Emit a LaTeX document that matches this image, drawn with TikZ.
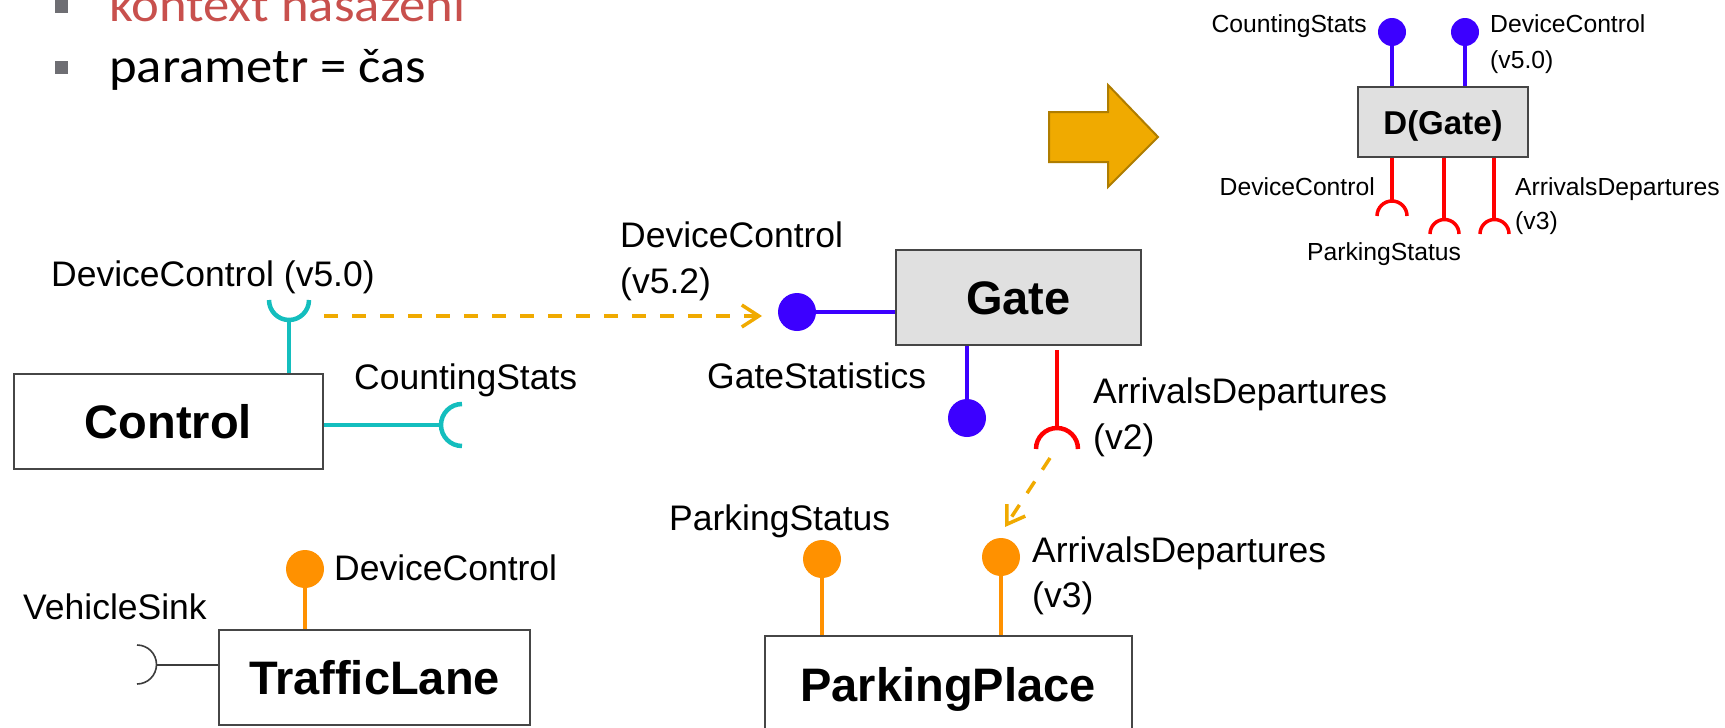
\documentclass[tikz,border=0pt]{standalone}
\usepackage{fontspec}
\usepackage{graphicx}
\setmainfont{Liberation Sans}
\newfontfamily\slidefont{Carlito}
\usetikzlibrary{arrows.meta}

\definecolor{cyanline}{RGB}{20,190,190}
\definecolor{blueline}{RGB}{60,0,255}
\definecolor{redline}{RGB}{255,0,0}
\definecolor{orangeball}{RGB}{255,145,0}
\definecolor{dashorange}{RGB}{240,170,0}
\definecolor{arrowfill}{RGB}{240,170,0}
\definecolor{arrowedge}{RGB}{175,125,0}
\definecolor{titlered}{RGB}{200,80,77}
\definecolor{bulletgray}{RGB}{110,110,115}
\definecolor{boxedge}{RGB}{70,70,70}
\definecolor{boxfill}{RGB}{224,224,224}
\definecolor{socketgray}{RGB}{60,60,60}

% bullet text is set slightly wider than the font's natural width
\newcommand{\stretchx}[1]{\scalebox{1.075}[1]{#1}}

\begin{document}
\begin{tikzpicture}[x=1pt,y=-1pt,
  lbl/.style={inner sep=0pt, font=\fontsize{35.5}{42}\selectfont},
  smalllbl/.style={inner sep=0pt, font=\fontsize{24.7}{30}\selectfont},
  comp/.style={draw=boxedge, line width=2pt, fill=white, inner sep=0pt,
    text height=34pt, text depth=0pt,
    font=\fontsize{47}{56}\selectfont\bfseries},
  ball/.style={circle, fill=#1, inner sep=0pt, minimum size=38pt},
  smallball/.style={circle, fill=blueline, inner sep=0pt, minimum size=28pt},
  wire/.style={line width=4.5pt, draw=#1},
  thinwire/.style={line width=3.5pt, draw=#1},
  dasharrow/.style={draw=dashorange, line width=3.5pt, dash pattern=on 14pt off 14pt,
    -{Straight Barb[length=17pt,width=22pt,line width=3.5pt]}},
  bulletsq/.style={fill=bulletgray, draw=none, minimum size=13pt, inner sep=0pt},
  slidetext/.style={inner sep=0pt, font=\slidefont\fontsize{49}{58}\selectfont},
]
\clip (0,0) rectangle (1725,728);
\fill[white] (0,0) rectangle (1725,728);

% ---------- bullet list ----------
\node[bulletsq] (b1) at (61,6.5) {};
\node[bulletsq] (b2) at (61,67.5) {};
\node[slidetext, text=titlered, anchor=base west] (t1) at (109,21) {\stretchx{kontext nasazení}};
\node[slidetext, anchor=base west] (t2) at (109,82) {\stretchx{parametr = čas}};

% ---------- block arrow ----------
\filldraw[fill=arrowfill, draw=arrowedge, line width=2pt, line join=miter]
  (1049,112) -- (1108,112) -- (1108,85) -- (1158,137) -- (1108,187)
  -- (1108,162) -- (1049,162) -- cycle;

% ---------- Control ----------
\node[comp, minimum width=309pt, minimum height=95pt] (ctl) at (168.5,421) {Control};
\coordinate (cupA) at (269,300);
\coordinate (cupAbot) at (289,320);
\draw[wire=cyanline] (cupA) arc[start angle=180, end angle=0, radius=20];
\draw[wire=cyanline] (cupAbot) -- (cupAbot |- ctl.north);
\coordinate (cupB) at (462,404);
\coordinate (cupBleft) at (441,425);
\draw[wire=cyanline] (cupB) arc[start angle=270, end angle=90, radius=21];
\draw[wire=cyanline] (ctl.east |- cupBleft) -- (cupBleft);
\node[lbl, anchor=base west] (lctlA) at (51,286) {DeviceControl (v5.0)};
\node[lbl, anchor=base west] (lctlB) at (354,389) {CountingStats};

% ---------- Gate ----------
\node[comp, fill=boxfill, minimum width=245pt, minimum height=95pt] (gate) at (1018.5,297.5) {Gate};
\node[ball=blueline] (gb1) at (797,312) {};
\node[ball=blueline] (gb2) at (967,418) {};
\draw[wire=blueline] (gb1) -- (gb1 -| gate.west);
\draw[wire=blueline] (gb2 |- gate.south) -- (gb2);
\coordinate (cupC) at (1036,449);
\coordinate (cupCtop) at (1057,428);
\coordinate (stemCtop) at (1057,350);
\draw[wire=redline] (cupC) arc[start angle=180, end angle=360, radius=21];
\draw[wire=redline] (stemCtop) -- (cupCtop);
\node[lbl, anchor=base west] (lgA) at (620,247) {DeviceControl};
\node[lbl, anchor=base west] (lgB) at (620,293) {(v5.2)};
\node[lbl, anchor=base west] (lgC) at (707,388) {GateStatistics};
\node[lbl, anchor=base west] (lgD) at (1093,403) {ArrivalsDepartures};
\node[lbl, anchor=base west] (lgE) at (1093,449) {(v2)};

% ---------- TrafficLane ----------
\node[comp, minimum width=311pt, minimum height=95pt] (lane) at (374.5,677.5) {TrafficLane};
\node[ball=orangeball] (lb1) at (305,569) {};
\draw[wire=orangeball] (lb1) -- (lb1 |- lane.north);
\coordinate (cupD) at (137,645);
\coordinate (cupDright) at (156,665);
\draw[draw=socketgray, line width=1.6pt] (cupD) arc[start angle=-90, end angle=90, radius=19.5];
\draw[draw=socketgray, line width=1.6pt] (cupDright) -- (cupDright -| lane.west);
\node[lbl, anchor=base west] (llA) at (334,580) {DeviceControl};
\node[lbl, anchor=base west] (llB) at (23,619) {VehicleSink};

% ---------- ParkingPlace ----------
\node[comp, minimum width=367pt, minimum height=97pt] (park) at (948,684.5) {ParkingPlace};
\node[ball=orangeball] (pb1) at (822,559) {};
\node[ball=orangeball] (pb2) at (1001,557) {};
\draw[wire=orangeball] (pb1) -- (pb1 |- park.north);
\draw[wire=orangeball] (pb2) -- (pb2 |- park.north);
\node[lbl, anchor=base west] (lpA) at (669,530) {ParkingStatus};
\node[lbl, anchor=base west] (lpB) at (1032,562) {ArrivalsDepartures};
\node[lbl, anchor=base west] (lpC) at (1032,607) {(v3)};

% ---------- dependency arrows ----------
\coordinate (depAstart) at (324,316);
\coordinate (depAend) at (762,316);
\coordinate (depBstart) at (1050,458);
\coordinate (depBend) at (1005,527);
\draw[dasharrow] (depAstart) -- (depAend);
\draw[dasharrow] (depBstart) -- (depBend);

% ---------- D(Gate) ----------
\node[draw=boxedge, line width=2pt, fill=boxfill, inner sep=0pt,
  minimum width=170pt, minimum height=70pt, text height=24pt, text depth=0pt,
  font=\fontsize{33}{40}\selectfont\bfseries] (dg) at (1443,122) {D(Gate)};
\node[smallball] (db1) at (1392,32) {};
\node[smallball] (db2) at (1465,32) {};
\draw[thinwire=blueline] (db1) -- (db1 |- dg.north);
\draw[thinwire=blueline] (db2) -- (db2 |- dg.north);
\coordinate (cupE) at (1377,216);
\coordinate (cupF) at (1430,234);
\coordinate (cupG) at (1480,234);
\coordinate (cupEtop) at (1392,201);
\coordinate (cupFtop) at (1444,219);
\coordinate (cupGtop) at (1494,219);
\draw[thinwire=redline] (cupE) arc[start angle=180, end angle=360, radius=15];
\draw[thinwire=redline] (cupF) arc[start angle=180, end angle=360, radius=14.5];
\draw[thinwire=redline] (cupG) arc[start angle=180, end angle=360, radius=14.5];
\draw[thinwire=redline] (cupEtop |- dg.south) -- (cupEtop);
\draw[thinwire=redline] (cupFtop |- dg.south) -- (cupFtop);
\draw[thinwire=redline] (cupGtop |- dg.south) -- (cupGtop);
\node[smalllbl, anchor=base east] (ldA) at (1367,32) {CountingStats};
\node[smalllbl, anchor=base west] (ldB) at (1490,32) {DeviceControl};
\node[smalllbl, anchor=base west] (ldC) at (1490,68) {(v5.0)};
\node[smalllbl, anchor=base east] (ldD) at (1375,195) {DeviceControl};
\node[smalllbl, anchor=base west] (ldE) at (1307,260) {ParkingStatus};
\node[smalllbl, anchor=base west] (ldF) at (1515,195) {ArrivalsDepartures};
\node[smalllbl, anchor=base west] (ldG) at (1515,229) {(v3)};
\end{tikzpicture}
\end{document}
